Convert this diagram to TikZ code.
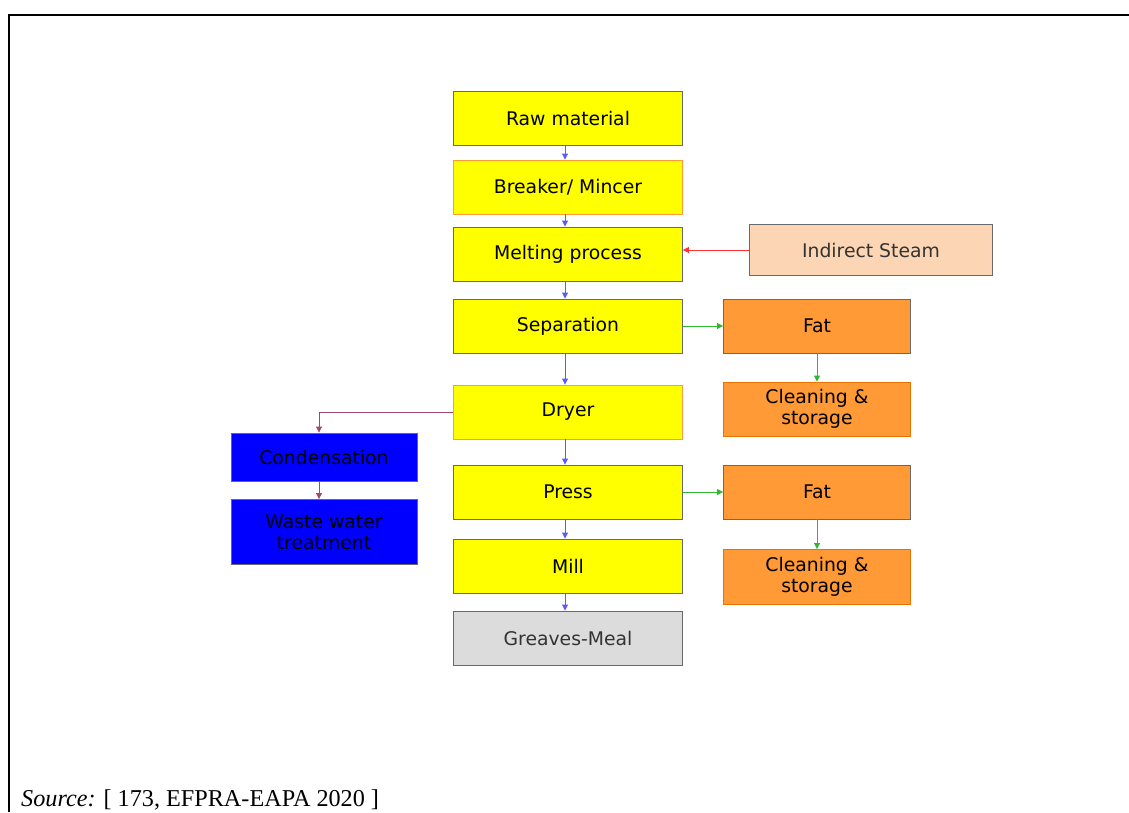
\documentclass[tikz,border=0pt]{standalone}
\usepackage{fontspec}
\setmainfont{Liberation Serif}
\newfontfamily\boxfont{DejaVu Sans}
\usetikzlibrary{arrows.meta, positioning}

\definecolor{procyellow}{HTML}{FFFF00}
\definecolor{fatorange}{HTML}{FF9A36}
\definecolor{steampeach}{HTML}{FCD5B4}
\definecolor{condblue}{HTML}{0000FF}
\definecolor{mealgray}{HTML}{DCDCDC}
\definecolor{edgegray}{HTML}{6A6A6A}
\definecolor{flowblue}{HTML}{5A5AFF}
\definecolor{flowgreen}{HTML}{2EB82E}
\definecolor{flowred}{HTML}{FF3030}
\definecolor{flowplum}{HTML}{A04870}

\tikzset{
  stage/.style={draw=edgegray, line width=0.9pt, fill=procyellow,
    minimum width=229pt, minimum height=54pt, inner sep=0pt,
    font=\boxfont\fontsize{18.8}{21}\selectfont, align=center},
  sidebox/.style={stage, minimum width=187pt, fill=fatorange},
  flow/.style={-{Triangle[length=6pt,width=6pt]}, line width=0.9pt},
}

\begin{document}
\begin{tikzpicture}[x=1pt, y=-1pt]
  \useasboundingbox (0,0) rectangle (1129,812);
  % frame of the figure
  \draw[line width=2.2pt] (9,812) -- (9,15) -- (1129,15);

  % main process line
  \node[stage] (raw) at (568,118) {Raw material};
  \node[stage, draw=orange!80] (breaker) at (568,187) {Breaker/ Mincer};
  \node[stage] (melting) at (568,254) {Melting process};
  \node[stage] (separation) at (568,326) {Separation};
  \node[stage, draw=orange!60!pink] (dryer) at (568,412) {Dryer};
  \node[stage] (press) at (568,492) {Press};
  \node[stage] (mill) at (568,566) {Mill};
  \node[stage, fill=mealgray, text=black!80] (meal) at (568,638) {Greaves-Meal};

  % steam input
  \node[stage, fill=steampeach, minimum width=243pt, minimum height=51pt,
    text=black!80] (steam) at (871,250) {Indirect Steam};

  % fat branches
  \node[sidebox] (fatA) at (817,326) {Fat};
  \node[sidebox, draw=orange!90!black, minimum height=54pt] (cleanA) at (817,409) {Cleaning \&\\storage};
  \node[sidebox] (fatB) at (817,492) {Fat};
  \node[sidebox, draw=orange!90!black, minimum height=55pt] (cleanB) at (817,577) {Cleaning \&\\storage};

  % vapour branch
  \node[stage, fill=condblue, minimum width=186pt, minimum height=48pt] (cond) at (324,457) {Condensation};
  \node[stage, fill=condblue, minimum width=186pt, minimum height=65pt] (waste) at (324,532) {Waste water\\treatment};

  % connectors
  \foreach \a/\b in {raw/breaker, breaker/melting, melting/separation,
                     separation/dryer, dryer/press, press/mill, mill/meal}
    \draw[flow, flowblue] ([xshift=-3pt]\a.south) -- ([xshift=-3pt]\b.north);
  \draw[flow, flowred] (steam.west) -- (steam.west -| melting.east);
  \draw[flow, flowgreen] (separation) -- (fatA);
  \draw[flow, flowgreen] (fatA) -- (cleanA);
  \draw[flow, flowgreen] (press) -- (fatB);
  \draw[flow, flowgreen] (fatB) -- (cleanB);
  \draw[flow, flowplum] (dryer.west) -| ([xshift=-5pt]cond.north);
  \draw[flow, flowplum] ([xshift=-5pt]cond.south) -- ([xshift=-5pt]waste.north);

  % source line
  \node[anchor=base west, font=\fontsize{24.2}{27}\selectfont, inner sep=0pt]
    (source) at (21,806) {\textit{Source:} [ 173, EFPRA-EAPA 2020 ]};
\end{tikzpicture}
\end{document}
